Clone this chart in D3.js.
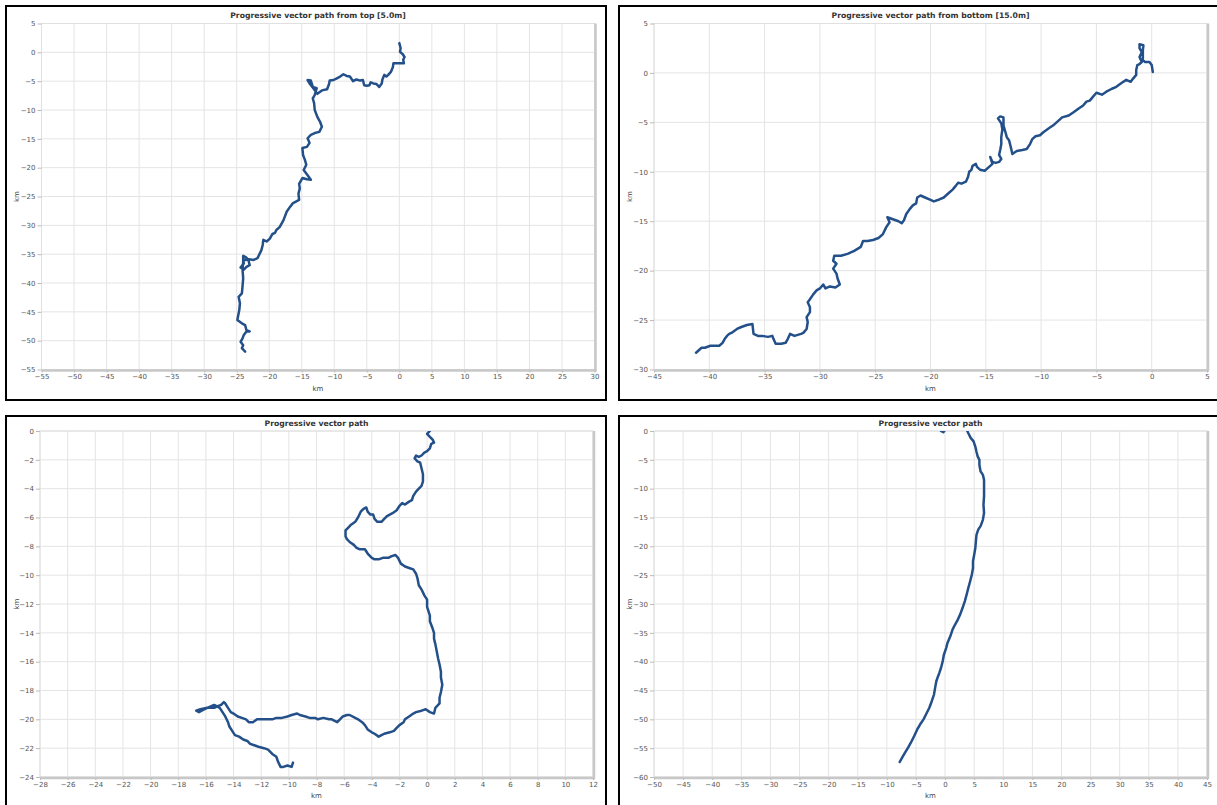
<!DOCTYPE html>
<html>
<head>
<meta charset="utf-8">
<script src="https://cdnjs.cloudflare.com/ajax/libs/d3/7.8.5/d3.min.js"></script>
<style>
  body { margin: 0; background: #fff; }
  svg { display: block; }
</style>
</head>
<body>
<script>
// Progressive vector path panels (km east, km north)

var titles = [
  "Progressive vector path from top [5.0m]",
  "Progressive vector path from bottom [15.0m]",
  "Progressive vector path",
  "Progressive vector path"
];
var xDomains = [[-55, 30], [-45, 5], [-28, 12], [-50, 45]];
var yDomains = [[-55, 5], [-30, 5], [-24, 0], [-60, 0]];
var tickSteps = [5, 5, 2, 5];

var pathFromTop = [
  [0,1.6],[0.2,0.7],[0.1,0.1],[0.5,-0.3],[0.8,-0.8],[0.6,-1.3],[0.7,-1.9],[-0.4,-1.9],[-0.9,-1.9],
  [-1.0,-2.6],[-1.3,-3.4],[-1.7,-3.9],[-2.0,-4.2],[-2.3,-3.9],[-2.6,-4.7],[-2.7,-5.4],[-3.1,-6.0],
  [-3.5,-5.5],[-4.0,-5.4],[-4.4,-5.2],[-4.6,-5.7],[-5.0,-5.8],[-5.4,-5.7],[-5.6,-4.8],[-6.0,-4.9],
  [-6.6,-4.7],[-7.1,-5.0],[-7.6,-4.2],[-8.1,-4.1],[-8.6,-3.8],[-9.1,-4.2],[-9.6,-4.5],[-10.1,-4.8],
  [-10.7,-4.9],[-10.8,-5.5],[-11.1,-6.4],[-11.9,-6.6],[-12.6,-7.2],[-13.1,-6.4],[-13.8,-5.4],
  [-14.1,-4.8],[-13.6,-4.9],[-13.3,-6.0],[-12.7,-6.2],[-13.0,-7.4],[-13.3,-8.0],[-13.1,-8.8],
  [-13.0,-10.0],[-12.6,-11.2],[-12.2,-12.0],[-11.9,-12.9],[-12.3,-13.8],[-13.0,-14.0],[-13.6,-14.3],
  [-14.1,-14.9],[-13.8,-15.7],[-14.2,-16.4],[-14.9,-16.6],[-14.8,-17.8],[-14.5,-18.7],[-14.3,-19.5],
  [-14.7,-20.4],[-14.1,-21.3],[-13.6,-22.1],[-14.2,-22.0],[-14.9,-21.8],[-15.4,-22.8],[-15.3,-23.6],
  [-15.5,-24.5],[-15.4,-25.6],[-15.9,-25.9],[-16.4,-26.2],[-16.8,-26.8],[-17.3,-27.6],[-17.6,-28.5],
  [-17.8,-29.1],[-18.1,-29.7],[-18.4,-30.3],[-18.9,-30.8],[-19.1,-31.3],[-19.5,-31.5],[-19.9,-32.3],
  [-20.4,-32.8],[-20.9,-32.5],[-21.0,-33.4],[-21.2,-34.3],[-21.5,-35.0],[-21.8,-35.7],[-22.4,-36.0],
  [-23.1,-35.9],[-23.6,-36.0],[-24.0,-35.9],[-23.9,-36.6],[-24.4,-37.3],[-23.9,-37.7],[-23.5,-37.2],
  [-23.0,-36.9],[-23.2,-36.0],[-23.6,-35.5],[-24.0,-35.3],[-24.0,-36.3],[-24.1,-37.7],[-24.0,-39.2],
  [-24.1,-40.6],[-24.2,-41.8],[-24.7,-42.4],[-24.5,-43.5],[-24.6,-44.7],[-24.9,-46.4],[-24.2,-47.0],
  [-23.7,-47.3],[-23.5,-48.2],[-23.0,-48.4],[-23.5,-48.4],[-23.9,-49.0],[-24.1,-49.6],[-24.4,-50.2],
  [-24.0,-50.8],[-24.2,-51.3],[-23.7,-51.9]
];

var pathFromBottom = [
  [0.1,0.1],[0,0.8],[-0.2,1.1],[-0.6,1.1],[-0.8,1.3],[-0.8,1.8],[-0.8,2.3],[-0.75,2.8],[-1.1,2.9],
  [-1.1,2.5],[-0.9,2.1],[-1.1,1.6],[-0.9,1.1],[-1.1,0.9],[-1.3,0.8],[-1.4,0.3],[-1.4,-0.2],[-1.7,-0.6],
  [-1.9,-0.9],[-2.3,-0.7],[-2.7,-1.0],[-3.2,-1.4],[-3.6,-1.6],[-4.1,-1.9],[-4.5,-2.2],[-5.0,-2.0],
  [-5.3,-2.4],[-5.6,-2.8],[-5.9,-2.9],[-6.2,-3.3],[-6.6,-3.6],[-7.1,-4.0],[-7.5,-4.3],[-8.1,-4.5],
  [-8.4,-4.8],[-8.9,-5.3],[-9.3,-5.6],[-9.8,-6.0],[-10.1,-6.3],[-10.5,-6.4],[-10.8,-6.7],[-11.0,-7.2],
  [-11.3,-7.7],[-11.7,-7.8],[-12.2,-7.9],[-12.6,-8.2],[-12.7,-7.7],[-12.9,-6.8],[-13.1,-6.5],
  [-13.3,-5.7],[-13.4,-5.3],[-13.4,-4.5],[-13.7,-4.4],[-13.9,-4.6],[-13.6,-5.1],[-13.5,-5.7],
  [-13.6,-6.5],[-13.6,-7.2],[-13.7,-7.8],[-13.8,-8.3],[-13.6,-8.7],[-13.8,-9.0],[-14.1,-9.1],
  [-14.4,-9.0],[-14.6,-8.5],[-14.4,-9.2],[-14.7,-9.5],[-15.1,-9.9],[-15.5,-9.8],[-15.8,-9.5],
  [-15.9,-9.2],[-16.2,-9.4],[-16.3,-9.8],[-16.5,-10.0],[-16.6,-10.5],[-16.8,-11.0],[-17.2,-11.2],
  [-17.5,-11.1],[-17.7,-11.4],[-18.0,-11.8],[-18.4,-12.2],[-18.8,-12.6],[-19.2,-12.8],[-19.7,-13.0],
  [-20.1,-12.8],[-20.5,-12.6],[-20.9,-12.4],[-21.2,-12.6],[-21.3,-13.2],[-21.6,-13.4],[-21.9,-13.8],
  [-22.2,-14.3],[-22.4,-14.9],[-22.6,-15.2],[-22.9,-15.0],[-23.4,-14.8],[-23.9,-14.6],[-23.7,-15.1],
  [-24.0,-15.6],[-24.3,-16.3],[-24.7,-16.7],[-25.2,-16.9],[-25.7,-17.0],[-26.1,-17.0],[-26.3,-17.6],
  [-26.9,-18.0],[-27.5,-18.3],[-28.1,-18.5],[-28.7,-18.5],[-28.8,-19.0],[-28.5,-19.3],[-28.8,-19.8],
  [-28.5,-20.3],[-28.4,-20.8],[-28.2,-21.4],[-28.6,-21.7],[-29.1,-21.6],[-29.5,-21.8],[-29.7,-21.4],
  [-30.0,-21.8],[-30.3,-22.0],[-30.6,-22.4],[-30.9,-22.9],[-31.1,-23.2],[-30.9,-23.7],[-30.9,-24.2],
  [-31.2,-24.7],[-31.1,-25.2],[-31.2,-25.9],[-31.5,-26.3],[-31.7,-26.4],[-32.3,-26.6],[-32.7,-26.4],
  [-32.9,-26.9],[-33.1,-27.3],[-33.5,-27.4],[-34.0,-27.4],[-34.2,-26.9],[-34.3,-26.6],[-34.7,-26.7],
  [-35.2,-26.6],[-35.6,-26.6],[-36.0,-26.4],[-36.1,-25.4],[-36.6,-25.5],[-37.1,-25.7],[-37.5,-25.9],
  [-38.0,-26.3],[-38.2,-26.4],[-38.4,-26.6],[-38.6,-26.9],[-38.8,-27.3],[-39.1,-27.6],[-39.5,-27.6],
  [-39.9,-27.6],[-40.4,-27.8],[-40.7,-27.8],[-41.0,-28.1],[-41.2,-28.3]
];

var pathMeanA = [
  [0.0,0.1],[0.2,0.0],[0.0,-0.2],[0.2,-0.4],[0.4,-0.6],[0.5,-0.8],[0.3,-0.9],[0.2,-1.2],[0.0,-1.4],
  [-0.2,-1.5],[-0.4,-1.7],[-0.6,-1.8],[-0.8,-1.7],[-0.9,-1.9],[-0.7,-2.1],[-0.5,-2.2],[-0.4,-2.6],
  [-0.3,-3.0],[-0.3,-3.5],[-0.4,-3.8],[-0.6,-4.0],[-0.8,-4.2],[-1.0,-4.5],[-1.1,-4.8],[-1.3,-4.9],
  [-1.6,-5.1],[-1.8,-5.0],[-2.0,-5.2],[-2.2,-5.5],[-2.5,-5.7],[-2.7,-5.8],[-2.9,-5.9],[-3.1,-6.1],
  [-3.3,-6.3],[-3.6,-6.3],[-3.8,-6.1],[-3.9,-5.8],[-4.1,-5.8],[-4.3,-5.6],[-4.4,-5.3],[-4.6,-5.4],
  [-4.8,-5.6],[-5.0,-6.0],[-5.2,-6.3],[-5.5,-6.5],[-5.7,-6.7],[-5.9,-6.9],[-5.9,-7.3],[-5.8,-7.5],
  [-5.6,-7.7],[-5.3,-7.9],[-5.1,-8.1],[-4.9,-8.2],[-4.5,-8.2],[-4.3,-8.5],[-4.0,-8.8],[-3.8,-8.9],
  [-3.5,-8.9],[-3.2,-8.8],[-2.8,-8.8],[-2.6,-8.7],[-2.3,-8.6],[-2.1,-8.8],[-1.9,-9.2],[-1.6,-9.4],
  [-1.3,-9.5],[-1.0,-9.6],[-0.8,-9.9],[-0.7,-10.2],[-0.6,-10.7],[-0.4,-11.0],[-0.2,-11.4],[0.0,-11.7],
  [0.0,-12.2],[0.2,-12.8],[0.2,-13.2],[0.4,-13.7],[0.5,-14.0],[0.5,-14.4],[0.6,-14.8],[0.7,-15.3],
  [0.8,-15.8],[0.9,-16.2],[1.0,-16.7],[1.0,-17.1],[1.1,-17.6],[1.0,-18.1],[0.9,-18.5],[0.9,-18.9],
  [0.6,-19.2],[0.5,-19.6],[0.2,-19.5],[-0.1,-19.3],[-0.4,-19.4],[-0.8,-19.5],[-1.0,-19.6],[-1.3,-19.8],
  [-1.6,-20.0],[-1.7,-20.2],[-2.0,-20.4],[-2.2,-20.6],[-2.4,-20.8],[-2.7,-20.9],[-3.1,-21.0],
  [-3.3,-21.1],[-3.5,-21.2],[-3.8,-21.0],[-4.0,-20.9],[-4.3,-20.7],[-4.5,-20.4],[-4.7,-20.2],
  [-5.0,-20.0],[-5.2,-19.9],[-5.6,-19.7],[-5.8,-19.7],[-6.1,-19.8],[-6.3,-20.0],[-6.5,-20.2],
  [-6.9,-20.0],[-7.1,-20.0],[-7.5,-19.9],[-7.9,-20.0],[-8.1,-19.9],[-8.5,-19.9],[-8.8,-19.8],
  [-9.2,-19.7],[-9.4,-19.6],[-9.8,-19.7],[-10.1,-19.8],[-10.5,-19.9],[-10.9,-19.9],[-11.2,-20.0],
  [-11.6,-20.0],[-11.9,-20.0],[-12.3,-20.0],[-12.6,-20.2],[-12.9,-20.2],[-13.1,-20.0],[-13.4,-19.9],
  [-13.7,-19.8],[-14.0,-19.6],[-14.2,-19.5],[-14.4,-19.2],[-14.6,-18.9],[-14.7,-18.8],[-14.9,-19.0],
  [-15.2,-19.1],[-15.4,-19.2],[-15.6,-19.2],[-15.9,-19.2],[-16.1,-19.3],[-16.5,-19.5],[-16.7,-19.4],
  [-16.4,-19.3],[-15.9,-19.2],[-15.4,-19.0],[-15.0,-19.2],[-14.8,-19.5],[-14.6,-19.8],[-14.4,-20.2],
  [-14.3,-20.5],[-14.1,-20.8],[-13.9,-21.1],[-13.6,-21.2],[-13.3,-21.4],[-13.0,-21.5],[-12.8,-21.7],
  [-12.5,-21.8],[-12.2,-21.9],[-11.8,-22.0],[-11.5,-22.1],[-11.2,-22.4],[-10.9,-22.6],[-10.8,-22.9],
  [-10.6,-23.3],[-10.4,-23.3],[-10.1,-23.2],[-9.8,-23.3],[-9.7,-23.0]
];

var pathMeanB = [
  [0.0,0.2],[-0.3,-0.2],[-0.7,0.0],[-1.0,0.6],[3.4,1.0],[3.6,0.5],[4.0,-0.4],[4.4,-1.2],[4.9,-1.8],
  [5.2,-2.7],[5.4,-3.6],[5.6,-4.4],[5.9,-5.0],[5.9,-5.9],[6.1,-7.0],[6.5,-7.6],[6.7,-8.5],[6.7,-9.9],
  [6.7,-11.3],[6.6,-12.8],[6.7,-14.2],[6.5,-15.4],[6.1,-16.5],[5.7,-17.1],[5.4,-18.0],[5.3,-19.1],
  [5.2,-20.3],[5.0,-21.5],[4.8,-22.6],[4.8,-23.8],[4.6,-24.9],[4.3,-26.1],[4.0,-27.2],[3.7,-28.4],
  [3.4,-29.5],[3.0,-30.7],[2.6,-31.8],[2.1,-32.9],[1.7,-33.6],[1.3,-34.4],[0.9,-35.6],[0.4,-36.8],
  [0.2,-37.6],[-0.2,-38.8],[-0.4,-39.9],[-0.7,-41.1],[-1.0,-42.0],[-1.3,-42.8],[-1.5,-43.4],
  [-1.7,-44.5],[-1.9,-45.7],[-2.3,-46.9],[-2.7,-48.0],[-3.3,-49.2],[-3.7,-50.0],[-4.3,-50.9],
  [-4.8,-51.8],[-5.3,-52.9],[-5.9,-54.1],[-6.3,-54.8],[-6.9,-55.8],[-7.4,-56.7],[-7.8,-57.4]
];

var paths = [pathFromTop, pathFromBottom, pathMeanA, pathMeanB];

// panel frames and plot areas (page pixels)
var frames = [
  {x: 6,   y: 6,   w: 600, h: 394, px: 41.5,  py: 23.5},
  {x: 619, y: 6,   w: 602, h: 394, px: 654,   py: 23.5},
  {x: 6,   y: 416, w: 600, h: 396, px: 40,    py: 431},
  {x: 619, y: 416, w: 602, h: 396, px: 654,   py: 431}
];
var plotW = 553, plotH = 346;
var font = "DejaVu Sans, Verdana, sans-serif";

var svg = d3.select("body").append("svg")
    .attr("width", 1217)
    .attr("height", 805);

var defs = svg.append("defs");

function drawPanel(i) {
  var f = frames[i];

  // black panel border
  svg.append("rect")
    .attr("x", f.x).attr("y", f.y)
    .attr("width", f.w).attr("height", f.h)
    .attr("fill", "none")
    .attr("stroke", "#000")
    .attr("stroke-width", 2);

  var g = svg.append("g")
    .attr("transform", "translate(" + f.px + "," + f.py + ")");

  var x = d3.scaleLinear().domain(xDomains[i]).range([0, plotW]);
  var y = d3.scaleLinear().domain(yDomains[i]).range([plotH, 0]);

  var step = tickSteps[i];
  var xTicks = d3.range(xDomains[i][0], xDomains[i][1] + step / 2, step);
  var yTicks = d3.range(yDomains[i][0], yDomains[i][1] + step / 2, step);

  // grid
  g.selectAll(".gx").data(xTicks).enter().append("line")
    .attr("x1", function(d) { return x(d); }).attr("x2", function(d) { return x(d); })
    .attr("y1", 0).attr("y2", plotH)
    .attr("stroke", "#e4e4e4").attr("stroke-width", 1);
  g.selectAll(".gy").data(yTicks).enter().append("line")
    .attr("y1", function(d) { return y(d); }).attr("y2", function(d) { return y(d); })
    .attr("x1", 0).attr("x2", plotW)
    .attr("stroke", "#e4e4e4").attr("stroke-width", 1);

  // plot frame with shadow on right and bottom
  g.append("rect")
    .attr("width", plotW).attr("height", plotH)
    .attr("fill", "none").attr("stroke", "#e0e0e0");
  g.append("line")
    .attr("x1", plotW + 1).attr("x2", plotW + 1).attr("y1", 0).attr("y2", plotH + 2)
    .attr("stroke", "#c8c8c8").attr("stroke-width", 2.5);
  g.append("line")
    .attr("x1", 0).attr("x2", plotW + 2).attr("y1", plotH + 1).attr("y2", plotH + 1)
    .attr("stroke", "#c8c8c8").attr("stroke-width", 2.5);

  // axes
  var xAxis = g.append("g")
    .attr("transform", "translate(0," + (plotH + 1) + ")")
    .call(d3.axisBottom(x).tickValues(xTicks).tickSize(2).tickPadding(2));
  var yAxis = g.append("g")
    .call(d3.axisLeft(y).tickValues(yTicks).tickSize(4).tickPadding(2));
  [xAxis, yAxis].forEach(function(a) {
    a.attr("color", "#555");
    a.select(".domain").remove();
    a.selectAll("line").attr("stroke", "#bbb");
    a.selectAll("text")
      .style("font-family", font)
      .style("font-size", "7px");
  });

  // clipped path line
  defs.append("clipPath").attr("id", "clip" + i)
    .append("rect").attr("width", plotW).attr("height", plotH);

  var line = d3.line()
    .x(function(d) { return x(d[0]); })
    .y(function(d) { return y(d[1]); });

  g.append("path")
    .datum(paths[i])
    .attr("clip-path", "url(#clip" + i + ")")
    .attr("d", line)
    .attr("fill", "none")
    .attr("stroke", "#24508a")
    .attr("stroke-width", 2.5)
    .attr("stroke-linejoin", "round")
    .attr("stroke-linecap", "round");

  // title
  g.append("text")
    .attr("x", plotW / 2).attr("y", -5.5)
    .attr("text-anchor", "middle")
    .attr("fill", "#333")
    .style("font-family", font)
    .style("font-weight", "bold")
    .style("font-size", "7.7px")
    .text(titles[i]);

  // axis labels
  g.append("text")
    .attr("x", plotW / 2).attr("y", plotH + 21)
    .attr("text-anchor", "middle")
    .attr("fill", "#444")
    .style("font-family", font)
    .style("font-size", "7px")
    .text("km");
  g.append("text")
    .attr("transform", "translate(" + (f.x + 13 - f.px) + "," + (plotH / 2) + ") rotate(-90)")
    .attr("text-anchor", "middle")
    .attr("fill", "#444")
    .style("font-family", font)
    .style("font-size", "7px")
    .text("km");
}

for (var i = 0; i < 4; i++) drawPanel(i);
</script>
</body>
</html>
